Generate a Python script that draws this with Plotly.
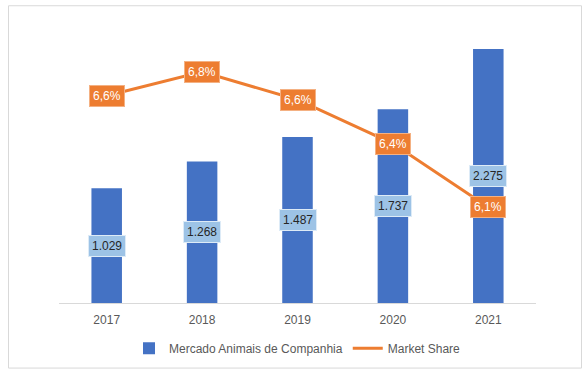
import plotly.graph_objects as go

years = ["2017", "2018", "2019", "2020", "2021"]
mercado = [1029, 1268, 1487, 1737, 2275]
market_share = [0.0664, 0.0676, 0.0662, 0.0640, 0.0608]
mercado_labels = ["1.029", "1.268", "1.487", "1.737", "2.275"]
share_labels = ["6,6%", "6,8%", "6,6%", "6,4%", "6,1%"]

BLUE = "#4472C4"
ORANGE = "#ED7D31"
LIGHTBLUE = "#9DC3E6"
FONT = "Liberation Sans, Arial, sans-serif"

W, H = 586, 375
ml, mt = 59, 24
pw, ph = 477, 283
mr, mb = W - ml - pw, H - mt - ph

fig = go.Figure()
fig.add_trace(go.Bar(x=years, y=mercado, name="Mercado Animais de Companhia",
                     marker=dict(color=BLUE, line=dict(width=0)), yaxis="y"))
fig.add_trace(go.Scatter(x=years, y=market_share, name="Market Share", mode="lines",
                         line=dict(color=ORANGE, width=3), yaxis="y2"))

annotations = []
for i, (v, t) in enumerate(zip(mercado, mercado_labels)):
    annotations.append(dict(x=i, y=v / 2, xref="x", yref="y", text=t, showarrow=False,
                            font=dict(family=FONT, size=12, color="#262626"),
                            bgcolor=LIGHTBLUE, bordercolor="#DDEBF7", borderwidth=1,
                            borderpad=3, xanchor="center", yanchor="middle"))
for i, (v, t) in enumerate(zip(market_share, share_labels)):
    annotations.append(dict(x=i, y=v, xref="x", yref="y2", text=t, showarrow=False,
                            font=dict(family=FONT, size=12, color="white"),
                            bgcolor=ORANGE, bordercolor="#F4B183", borderwidth=1,
                            borderpad=3, xanchor="center", yanchor="middle"))

def px_x(p):
    return (p - ml) / pw

def px_y(p):
    return (mt + ph - p) / ph

fig.update_layout(
    width=W, height=H,
    margin=dict(l=ml, r=mr, t=mt, b=mb),
    paper_bgcolor="white", plot_bgcolor="white",
    font=dict(family=FONT, size=12, color="#595959"),
    bargap=0.68,
    showlegend=True,
    legend=dict(orientation="h", x=0.5, xanchor="center", y=px_y(353), yanchor="middle",
                font=dict(size=12, color="#595959"), itemwidth=30, traceorder="normal"),
    xaxis=dict(type="category", categoryorder="array", categoryarray=years,
               range=[-0.5, len(years) - 0.5], autorange=False,
               showline=True, linecolor="#D9D9D9", linewidth=1, ticks="",
               ticklabelstandoff=6,
               showgrid=False, tickfont=dict(size=12, color="#595959")),
    yaxis=dict(range=[0, 2500], visible=False, showgrid=False),
    yaxis2=dict(range=[0.056, 0.070], overlaying="y", side="right", visible=False,
                showgrid=False),
    annotations=annotations,
    shapes=[dict(type="rect", xref="paper", yref="paper",
                 x0=px_x(8.5), x1=px_x(581.5), y0=px_y(373), y1=px_y(5.5),
                 line=dict(color="#D9D9D9", width=1), fillcolor="rgba(0,0,0,0)", layer="below")],
)

fig.write_html("out.html", config={"displayModeBar": False},
               post_script="document.body.style.margin='0';document.body.style.overflow='hidden';")
